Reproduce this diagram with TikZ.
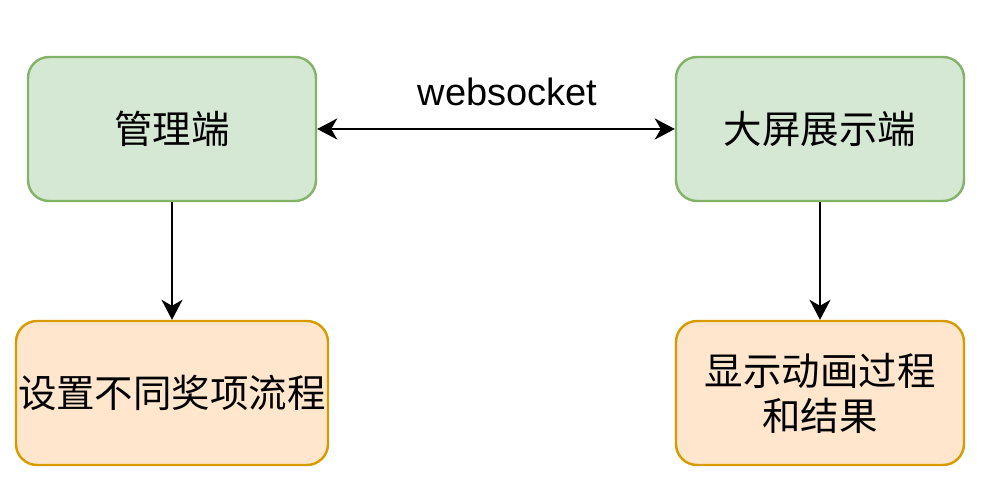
\documentclass[tikz,border=0pt]{standalone}
\usepackage{fontspec}
\setmainfont{Liberation Sans}
\newfontfamily\cjk{Noto Sans CJK SC}
\usetikzlibrary{arrows.meta}
\definecolor{gfill}{HTML}{D5E8D4}
\definecolor{gline}{HTML}{82B366}
\definecolor{ofill}{HTML}{FFE6CC}
\definecolor{oline}{HTML}{D79B00}
\tikzset{
  box/.style={rectangle, rounded corners=21pt, line width=2.4pt, inner sep=0pt,
    minimum height=144pt, align=center, font=\cjk\fontsize{38.5}{45}\selectfont},
  greenbox/.style={box, draw=gline, fill=gfill},
  orangebox/.style={box, draw=oline, fill=ofill},
  arr/.style={line width=2.4pt, -{Stealth[length=20pt,width=21pt,inset=6pt]}},
  darr/.style={line width=2.4pt, {Stealth[length=20pt,width=21pt,inset=6pt]}-{Stealth[length=20pt,width=21pt,inset=6pt]}},
}
\begin{document}
\begin{tikzpicture}[x=1pt,y=-1pt]
\useasboundingbox (0,0) rectangle (986,490);
\node[greenbox, minimum width=288pt] (mgr) at (172,129) {管理端};
\node[greenbox, minimum width=288pt] (scr) at (820,129) {大屏展示端};
\node[orangebox, minimum width=312pt] (set) at (172,393) {设置不同奖项流程};
\node[orangebox, minimum width=288pt] (show) at (820,393) {显示动画过程\\和结果};
\node[anchor=base, inner sep=0pt, font=\fontsize{38}{46}\selectfont] (ws) at (507.5,105) {websocket};
\draw[darr] (mgr.east) -- (scr.west);
\draw[arr] (mgr.south) -- (set.north);
\draw[arr] (scr.south) -- (show.north);
\end{tikzpicture}
\end{document}
